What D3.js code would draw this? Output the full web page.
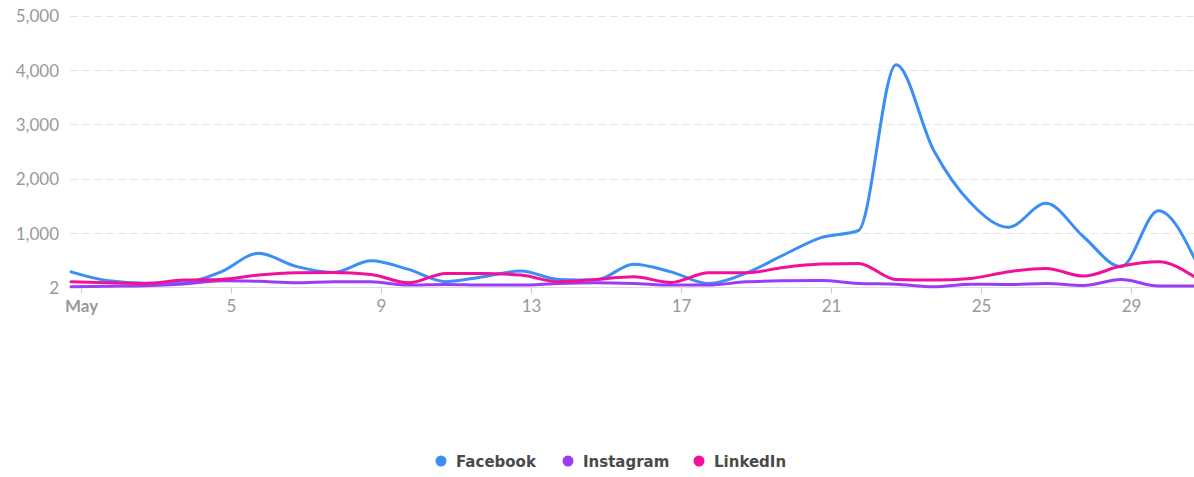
<!DOCTYPE html>
<html>
<head>
<meta charset="utf-8">
<script src="https://cdn.jsdelivr.net/npm/d3@7"></script>
<style>
  html, body { margin: 0; padding: 0; background: #fff; }
  svg { display: block; }
</style>
</head>
<body>
<svg id="chart" width="1194" height="477"></svg>
<script>
// ---- data ----
const days = d3.range(1, 32);
const facebook  = [290,125,80,90,290,630,390,280,495,335,110,200,305,150,140,430,290,75,265,600,920,1050,4100,2530,1550,1110,1550,935,385,1415,480];
const instagram = [15,25,33,64,125,115,90,110,107,46,58,46,46,77,90,77,46,46,107,125,130,77,64,15,64,55,77,40,150,30,30];
const linkedin  = [107,90,77,138,150,230,272,280,243,88,261,261,230,107,150,199,95,272,272,371,432,445,150,138,169,291,353,212,396,475,180];
const seriesNames = ["Facebook", "Instagram", "LinkedIn"];
const seriesColors = ["#3a8ef6", "#9b3df5", "#f2109a"];
const yTicks = [2, 1000, 2000, 3000, 4000, 5000];
const xTickDays = [1, 5, 9, 13, 17, 21, 25, 29];
const xTickLabels = ["May", "5", "9", "13", "17", "21", "25", "29"];

const series = [facebook, instagram, linkedin];

// ---- layout ----
const svg = d3.select("#chart");
const plotLeft = 70, plotRight = 1194;
const x = d3.scaleLinear().domain([1, 31]).range([71, 1196]);
const y = d3.scaleLinear().domain([2, 5000]).range([287.5, 15.7]);
const tickShift = 0.267;

// gridlines
svg.append("g").selectAll("line")
  .data(yTicks.filter(t => t !== 2))
  .join("line")
  .attr("x1", plotLeft).attr("x2", plotRight)
  .attr("y1", d => Math.round(y(d)) + 0.5).attr("y2", d => Math.round(y(d)) + 0.5)
  .attr("stroke", "#e6e6e6").attr("stroke-width", 1)
  .attr("stroke-dasharray", "8,4");

// y axis labels
const yAxis = d3.axisLeft(y).tickValues(yTicks).tickSize(0).tickPadding(0)
  .tickFormat(d3.format(","));
svg.append("g").attr("transform", `translate(59,0)`).call(yAxis)
  .call(g => g.select(".domain").remove())
  .call(g => g.selectAll("text")
    .attr("fill", "#999").attr("font-family", "Lato, sans-serif").attr("font-size", 17)
    .attr("dy", "0.36em"));

// x axis
const xAxis = d3.axisBottom(x)
  .tickValues(xTickDays.map(d => d + tickShift))
  .tickSize(6).tickPadding(6)
  .tickFormat((d, i) => xTickLabels[i]);
svg.append("g").attr("transform", `translate(0,287.5)`).call(xAxis)
  .call(g => g.select(".domain").remove())
  .call(g => g.selectAll(".tick line").attr("stroke", "#ccc"))
  .call(g => g.selectAll("text")
    .attr("fill", "#999").attr("font-family", "Lato, sans-serif").attr("font-size", 17)
    .attr("font-weight", (d, i) => i === 0 ? "bold" : "normal"));
svg.append("line")
  .attr("x1", plotLeft).attr("x2", plotRight)
  .attr("y1", 287.5).attr("y2", 287.5)
  .attr("stroke", "#ddd").attr("stroke-width", 1);

// lines
const line = d3.line()
  .x((d, i) => x(days[i]))
  .y(d => y(d))
  .curve(d3.curveMonotoneX);
svg.append("g").selectAll("path")
  .data(series)
  .join("path")
  .attr("d", d => line(d))
  .attr("fill", "none")
  .attr("stroke", (d, i) => seriesColors[i])
  .attr("stroke-width", 3)
  .attr("stroke-linejoin", "round")
  .attr("stroke-linecap", "round");

// legend
const legendX = [441, 568, 699];
const legend = svg.append("g").selectAll("g")
  .data(seriesNames)
  .join("g")
  .attr("transform", (d, i) => `translate(${legendX[i]},462)`);
legend.append("circle").attr("r", 5.5).attr("cy", -1)
  .attr("fill", (d, i) => seriesColors[i]);
legend.append("text")
  .attr("x", 15).attr("dy", "0.35em")
  .attr("fill", "#4a4a4a").attr("font-family", "'DejaVu Sans', sans-serif")
  .attr("font-size", 15).attr("font-weight", "bold")
  .text(d => d);
</script>
</body>
</html>
